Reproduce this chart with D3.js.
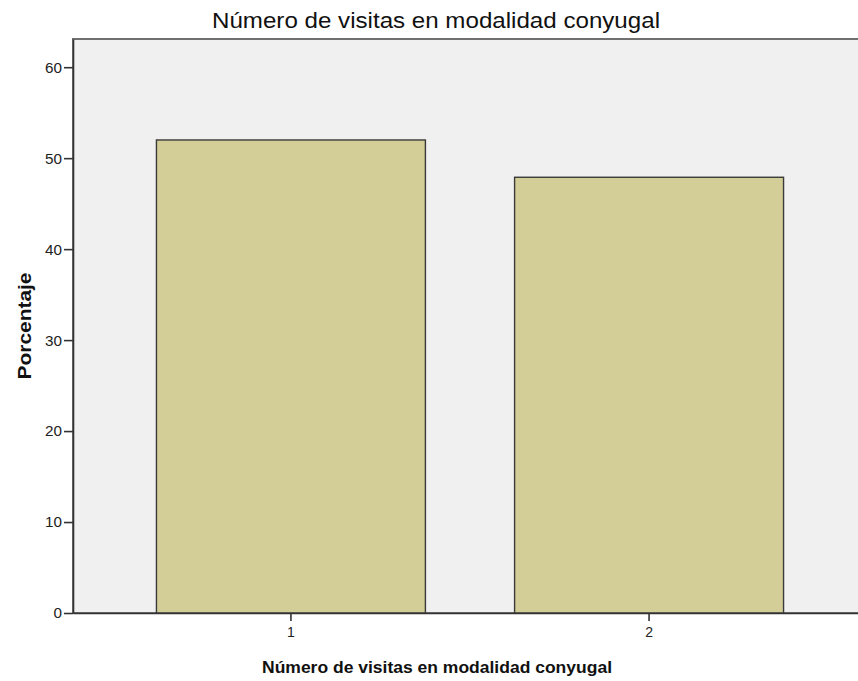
<!DOCTYPE html>
<html><head><meta charset="utf-8">
<script src="https://cdn.jsdelivr.net/npm/d3@7"></script>
<style>body{margin:0;background:#fff}svg{display:block}text{font-family:Arial,"Liberation Sans",sans-serif}</style>
</head><body><svg id="c" width="858" height="681"></svg>
<script>
const categories = ["1", "2"];
const values = [52.0, 47.9];
const yTicks = [0, 10, 20, 30, 40, 50, 60];
const title = "Número de visitas en modalidad conyugal";
const xTitle = "Número de visitas en modalidad conyugal";
const yTitle = "Porcentaje";

const svg = d3.select("#c");
const L = 73, T = 39, R = 867, B = 613;
const x = d3.scaleBand().domain(categories).range([L, R]).paddingInner(0.249).paddingOuter(0.233);
const y = d3.scaleLinear().domain([0, 63.1]).range([B, T]);

svg.append("rect").attr("x", L).attr("y", T).attr("width", R - L).attr("height", B - T)
  .attr("fill", "#f0f0f0").attr("stroke", "#707070").attr("stroke-width", 2);

svg.selectAll("rect.bar").data(values).enter().append("rect").attr("class", "bar")
  .attr("x", (d, i) => x(categories[i]))
  .attr("y", d => y(d))
  .attr("width", x.bandwidth())
  .attr("height", d => B - y(d))
  .attr("fill", "#d3ce97").attr("stroke", "#3a3a3a").attr("stroke-width", 1.4);

const ya = svg.append("g").attr("transform", `translate(${L},0)`)
  .call(d3.axisLeft(y).tickValues(yTicks).tickSize(9).tickPadding(2).tickSizeOuter(0).tickFormat(d3.format("d")));
ya.select(".domain").attr("stroke", "#333").attr("stroke-width", 1.6);
ya.selectAll(".tick line").attr("stroke", "#333").attr("stroke-width", 1.6);
ya.selectAll("text").style("font-size", "14px").attr("fill", "#222").attr("dy", "0.35em")
  .attr("textLength", d => String(d).length * 8.5).attr("lengthAdjust", "spacingAndGlyphs");

const xa = svg.append("g").attr("transform", `translate(0,${B})`)
  .call(d3.axisBottom(x).tickSize(8).tickPadding(3).tickSizeOuter(0));
xa.select(".domain").attr("stroke", "#333").attr("stroke-width", 1.6);
xa.selectAll(".tick line").attr("stroke", "#333").attr("stroke-width", 1.6);
xa.selectAll("text").style("font-size", "14px").attr("fill", "#222").attr("dy", null).attr("y", 24);

svg.append("text").attr("x", 436).attr("y", 28).attr("text-anchor", "middle")
  .attr("font-size", 21.5).attr("fill", "#111")
  .attr("textLength", 448).attr("lengthAdjust", "spacingAndGlyphs").text(title);
svg.append("text").attr("x", 437).attr("y", 673).attr("text-anchor", "middle")
  .attr("font-size", 17).attr("font-weight", "bold").attr("fill", "#111")
  .attr("textLength", 350).attr("lengthAdjust", "spacingAndGlyphs").text(xTitle);
svg.append("text").attr("transform", "translate(31,326) rotate(-90)").attr("text-anchor", "middle")
  .attr("font-size", 17.5).attr("font-weight", "bold").attr("fill", "#111")
  .attr("textLength", 107).attr("lengthAdjust", "spacingAndGlyphs").text(yTitle);
</script></body></html>
